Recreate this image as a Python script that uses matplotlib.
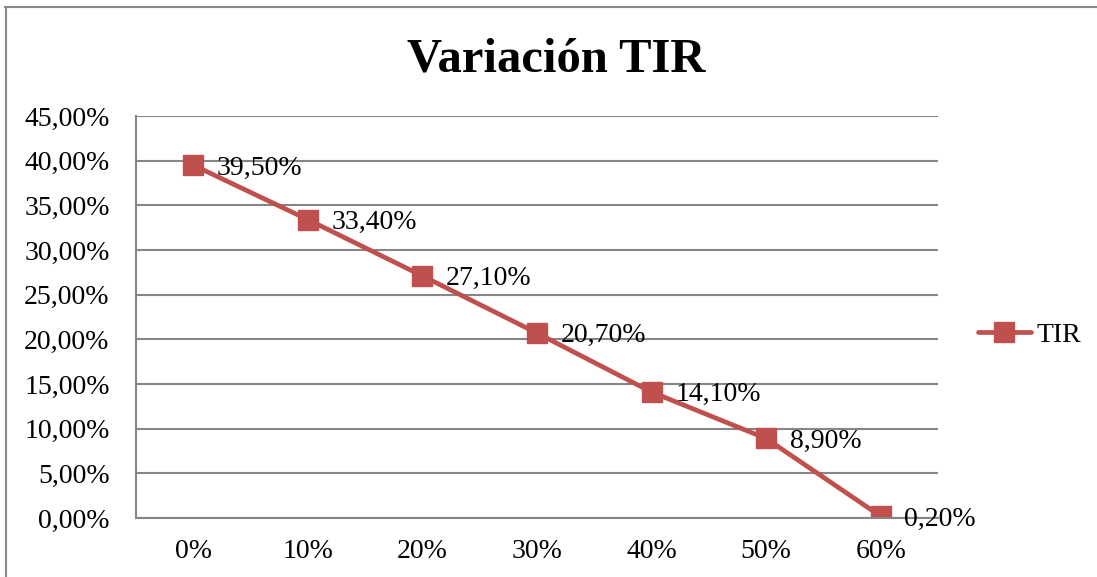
import matplotlib
matplotlib.use('Agg')
import matplotlib.pyplot as plt
from matplotlib.lines import Line2D
from matplotlib.ticker import FuncFormatter

# Data
categories = ['0%', '10%', '20%', '30%', '40%', '50%', '60%']
tir = [39.5, 33.4, 27.1, 20.7, 14.1, 8.9, 0.2]
series_name = 'TIR'
title = 'Variación TIR'

red = '#C0504D'
grid = '#868686'


def pct(v):
    return ('%.2f%%' % v).replace('.', ',')


plt.rcParams['font.family'] = ['Liberation Serif', 'DejaVu Serif']

fig = plt.figure(figsize=(10.97, 5.77), dpi=100)
ax = fig.add_axes([136/1097, 1 - 518/577, (938 - 136)/1097, (518 - 116)/577])

x = list(range(len(categories)))
ax.plot(x, tir, color=red, lw=3.4, marker='s', ms=14, mec=red, mfc=red,
        label=series_name, solid_capstyle='round')

# data labels right of each point
for xi, v in zip(x, tir):
    ax.annotate(pct(v), (xi, v), xytext=(17, -2), textcoords='offset points',
                ha='left', va='center', fontsize=20)

ax.set_xlim(-0.5, len(categories) - 0.5)
ax.set_ylim(0, 45)
ax.set_yticks([i * 5 for i in range(10)])
ax.yaxis.set_major_formatter(FuncFormatter(lambda v, p: pct(v)))
ax.set_xticks(x)
ax.set_xticklabels(categories)
ax.tick_params(axis='both', length=0, labelsize=20)
ax.tick_params(axis='y', pad=19)
ax.tick_params(axis='x', pad=15)
ax.grid(axis='y', color=grid, lw=1.5)
ax.set_axisbelow(True)
for s in ['top', 'right']:
    ax.spines[s].set_visible(False)
for s in ['left', 'bottom']:
    ax.spines[s].set_color(grid)
    ax.spines[s].set_linewidth(1.5)

handle = Line2D([], [], color=red, lw=3.4, marker='s', ms=14, mec=red, mfc=red,
                solid_capstyle='round')
fig.legend([handle], [series_name], loc='center left',
           bbox_to_anchor=(978/1097, 1 - 335/577), frameon=False, fontsize=20,
           handlelength=1.9, handletextpad=0.2, borderpad=0, borderaxespad=0)

fig.text(556/1097, 1 - 60/577, title, ha='center', va='center',
         fontsize=35, fontweight='bold')

# outer chart frame (only top and left edges are visible)
fig.add_artist(Line2D([5/1097, 1], [1 - 6.5/577, 1 - 6.5/577], color='#888888', lw=1.5,
                      transform=fig.transFigure))
fig.add_artist(Line2D([5.5/1097, 5.5/1097], [0, 1 - 6.5/577], color='#888888', lw=1.5,
                      transform=fig.transFigure))

fig.savefig('out.png', dpi=100)
